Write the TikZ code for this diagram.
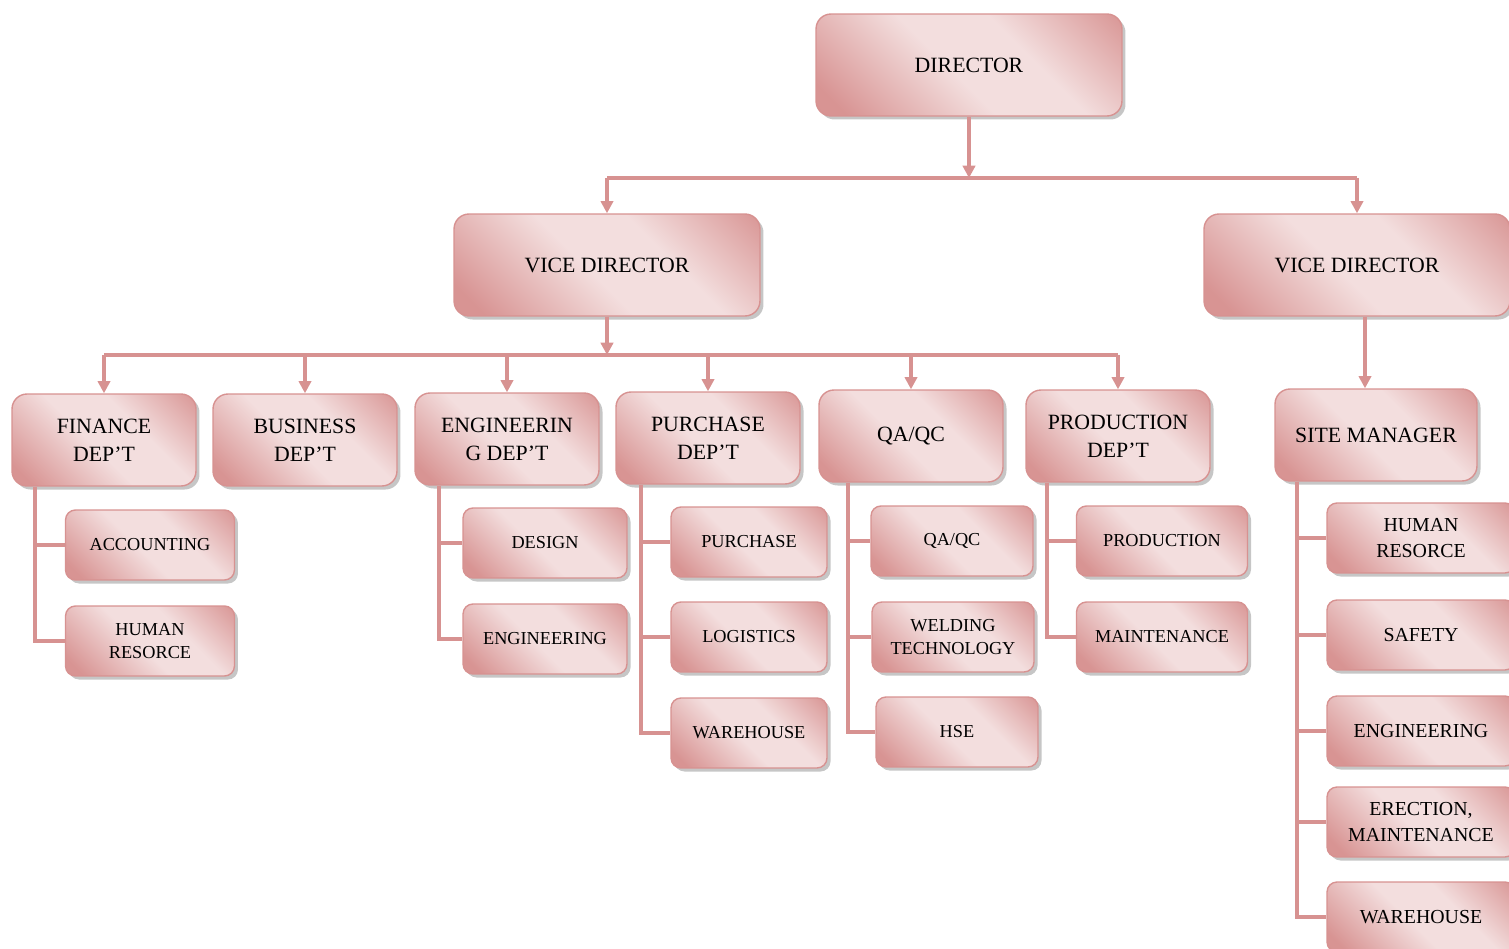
\documentclass[tikz,border=0pt]{standalone}
\usepackage{fontspec}
\setmainfont{Liberation Serif}
\usetikzlibrary{arrows.meta,shadows}
\definecolor{boxdark}{RGB}{216,148,147}
\definecolor{boxlight}{RGB}{243,222,222}
\definecolor{linepink}{RGB}{215,146,145}
\pgfdeclarehorizontalshading{boxshade}{100bp}{color(0bp)=(boxdark); color(20bp)=(boxdark); color(46bp)=(boxlight); color(62bp)=(boxlight); color(86bp)=(boxdark); color(100bp)=(boxdark)}
\tikzset{
  unit/.style={rounded corners=0.3cm, draw=linepink, line width=0.8pt, shading=boxshade, shading angle=45,
    drop shadow={shadow xshift=2pt, shadow yshift=-2pt, opacity=0.45}, align=center, inner sep=2pt},
  bigbox/.style={unit, minimum width=6.12cm, minimum height=2.04cm, font=\fontsize{12.4}{15.9}\selectfont},
  deptbox/.style={unit, minimum width=3.68cm, minimum height=1.84cm, font=\fontsize{12.4}{16}\selectfont},
  subbox/.style={unit, rounded corners=0.2cm, minimum width=3.28cm, minimum height=1.4cm, font=\fontsize{10.4}{13}\selectfont},
  sitebox/.style={subbox, minimum width=3.76cm, font=\fontsize{11.3}{14.7}\selectfont},
  link/.style={draw=linepink, line width=1.9pt},
  arr/.style={link, -{Triangle[width=7pt,length=7pt]}}
}

\begin{document}
\begin{tikzpicture}[x=0.02cm, y=-0.02cm]
\useasboundingbox (0,0) rectangle (1509,949);

% top levels
\node[bigbox] (dir) at (969,65) {DIRECTOR};
\node[bigbox] (vd1) at (607,265) {VICE DIRECTOR};
\node[bigbox] (vd2) at (1357,265) {VICE DIRECTOR};

% departments
\node[deptbox] (fin) at (104,440) {FINANCE\\DEP’T};
\node[deptbox] (bus) at (305,440) {BUSINESS\\DEP’T};
\node[deptbox] (eng) at (507,439) {ENGINEERIN\\G DEP’T};
\node[deptbox] (pur) at (708,438) {PURCHASE\\DEP’T};
\node[deptbox] (qa) at (911,436) {QA/QC};
\node[deptbox] (pro) at (1118,436) {PRODUCTION\\DEP’T};
\node[deptbox, minimum width=4.04cm] (site) at (1376,435) {SITE MANAGER};

% sections
\node[subbox, minimum width=3.38cm] (fin1) at (150,545) {ACCOUNTING};
\node[subbox, minimum width=3.38cm] (fin2) at (150,641) {HUMAN\\RESORCE};
\node[subbox] (eng1) at (545,543) {DESIGN};
\node[subbox] (eng2) at (545,639) {ENGINEERING};
\node[subbox, minimum width=3.12cm] (pur1) at (749,542) {PURCHASE};
\node[subbox, minimum width=3.12cm] (pur2) at (749,637) {LOGISTICS};
\node[subbox, minimum width=3.12cm] (pur3) at (749,733) {WAREHOUSE};
\node[subbox, minimum width=3.24cm] (qa1) at (952,541) {QA/QC};
\node[subbox, minimum width=3.24cm] (qa2) at (953,637) {WELDING\\TECHNOLOGY};
\node[subbox, minimum width=3.24cm] (qa3) at (957,732) {HSE};
\node[subbox, minimum width=3.42cm] (pro1) at (1162,541) {PRODUCTION};
\node[subbox, minimum width=3.42cm] (pro2) at (1162,637) {MAINTENANCE};
\node[sitebox] (site1) at (1421,538) {HUMAN\\RESORCE};
\node[sitebox] (site2) at (1421,635) {SAFETY};
\node[sitebox] (site3) at (1421,731) {ENGINEERING};
\node[sitebox] (site4) at (1421,822) {ERECTION,\\MAINTENANCE};
\node[sitebox] (site5) at (1421,917) {WAREHOUSE};

% connectors
\coordinate (bar1) at (0,178);
\coordinate (bar2) at (0,355);
\draw[arr] (dir.south) -- (dir.south |- bar1);
\draw[link] (vd1.north |- bar1) -- (vd2.north |- bar1);
\foreach \n in {vd1,vd2}
  \draw[arr] (\n.north |- bar1) -- (\n.north);

\draw[arr] (vd1.south) -- (vd1.south |- bar2);
\draw[link] (fin.north |- bar2) -- (pro.north |- bar2);
\foreach \n in {fin,bus,eng,pur,qa,pro}
  \draw[arr] (\n.north |- bar2) -- (\n.north);

\coordinate (vd2a) at ([xshift=0.16cm]vd2.south);
\draw[arr] (vd2a) -- (vd2a |- site.north);

\foreach \d/\x/\last in {fin/35/fin2, eng/439/eng2, pur/641/pur3, qa/848/qa3, pro/1047/pro2, site/1297/site5} {
  \coordinate (trunk) at (\x,0);
  \draw[link] (\d.south -| trunk) |- (\last.west);
}
\foreach \s/\x in {fin1/35, eng1/439, pur1/641, pur2/641, qa1/848, qa2/848, pro1/1047,
                   site1/1297, site2/1297, site3/1297, site4/1297} {
  \coordinate (trunk) at (\x,0);
  \draw[link] (\s.west) -- (\s.west -| trunk);
}
\end{tikzpicture}
\end{document}
